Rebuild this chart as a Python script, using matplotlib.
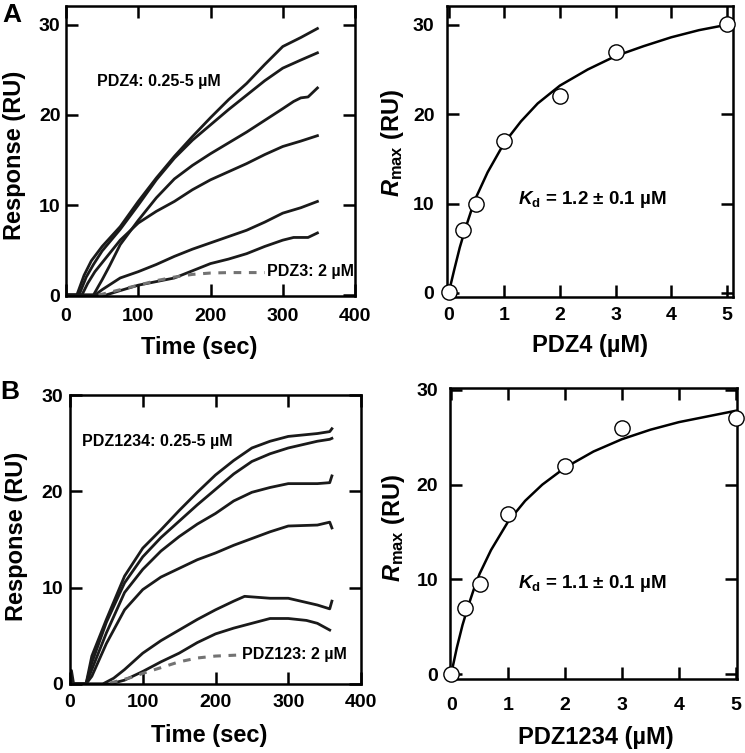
import matplotlib
matplotlib.use('Agg')
import matplotlib.pyplot as plt

plt.rcParams['font.family'] = ['Liberation Sans', 'DejaVu Sans']
plt.rcParams['font.weight'] = 'bold'
plt.rcParams['axes.labelweight'] = 'bold'
plt.rcParams['mathtext.fontset'] = 'custom'
plt.rcParams['mathtext.it'] = 'Liberation Sans:italic:bold'
plt.rcParams['mathtext.rm'] = 'Liberation Sans:bold'
plt.rcParams['mathtext.bf'] = 'Liberation Sans:bold'

# ---- panel A, sensorgrams (time in sec, response in RU) ----
a_t1 = [0, 15, 25, 35, 50, 75, 100, 125, 150, 175, 200, 225, 250, 275, 300, 325, 348]
a_y1 = [0, 0, 2.2, 3.8, 5.4, 7.6, 10.4, 13.0, 15.4, 17.6, 19.7, 21.7, 23.5, 25.6, 27.6, 28.6, 29.6]
a_t2 = [0, 18, 28, 38, 50, 75, 100, 125, 150, 175, 200, 225, 250, 275, 300, 325, 348]
a_y2 = [0, 0, 2.0, 3.4, 4.9, 7.3, 10.0, 12.8, 15.2, 17.2, 18.9, 20.6, 22.2, 23.8, 25.2, 26.1, 26.9]
a_t3 = [0, 38, 45, 50, 60, 75, 100, 125, 150, 175, 200, 225, 250, 275, 300, 315, 325, 335, 348]
a_y3 = [0, 0, 1.0, 1.7, 3.2, 5.6, 8.3, 10.8, 12.9, 14.4, 15.7, 16.9, 18.1, 19.4, 20.7, 21.5, 21.9, 22.0, 23.0]
a_t4 = [0, 22, 30, 40, 50, 75, 100, 125, 150, 175, 200, 225, 250, 275, 300, 325, 348]
a_y4 = [0, 0, 1.3, 2.6, 3.6, 6.1, 8.0, 9.3, 10.4, 11.7, 12.8, 13.7, 14.6, 15.6, 16.5, 17.1, 17.7]
a_t5 = [0, 40, 50, 75, 100, 125, 150, 175, 200, 225, 250, 275, 300, 325, 348]
a_y5 = [0, 0, 0.6, 1.9, 2.6, 3.4, 4.3, 5.1, 5.8, 6.5, 7.2, 8.1, 9.1, 9.7, 10.4]
a_t6 = [0, 55, 75, 100, 125, 150, 175, 200, 225, 250, 275, 300, 315, 335, 348]
a_y6 = [0, 0, 0.5, 1.1, 1.5, 1.9, 2.7, 3.5, 4.0, 4.6, 5.4, 6.1, 6.4, 6.4, 6.9]
a_tctl = [45, 60, 75, 100, 125, 150, 175, 200, 225, 250, 275]
a_yctl = [0, 0.3, 0.6, 1.1, 1.6, 2.0, 2.3, 2.45, 2.5, 2.5, 2.5]

# ---- panel B, sensorgrams ----
b_t1 = [0, 2, 5, 22, 30, 50, 75, 100, 125, 150, 175, 200, 225, 250, 275, 300, 340, 357, 360]
b_y1 = [0, 1.4, 0, 0, 2.9, 6.7, 11.2, 14.1, 16.0, 18.0, 19.9, 21.7, 23.2, 24.5, 25.2, 25.7, 26.0, 26.2, 26.5]
b_t2 = [0, 22, 30, 50, 75, 100, 125, 150, 175, 200, 225, 250, 275, 300, 340, 357, 360]
b_y2 = [0, 0, 2.2, 6.4, 10.5, 13.2, 15.2, 16.9, 18.6, 20.2, 21.8, 23.1, 23.9, 24.5, 25.2, 25.4, 25.5]
b_t3 = [0, 22, 30, 50, 75, 100, 125, 150, 175, 200, 225, 250, 275, 300, 340, 357, 360]
b_y3 = [0, 0, 1.5, 5.3, 9.5, 11.9, 13.8, 15.3, 16.6, 17.7, 19.0, 19.9, 20.4, 20.8, 20.8, 20.9, 21.6]
b_t4 = [0, 22, 30, 50, 75, 100, 125, 150, 175, 200, 225, 250, 275, 300, 340, 357, 360]
b_y4 = [0, 0, 0.8, 4.2, 7.7, 9.8, 11.1, 12.0, 12.9, 13.6, 14.4, 15.1, 15.8, 16.4, 16.5, 16.8, 16.2]
b_t5 = [0, 45, 60, 75, 100, 125, 150, 175, 200, 225, 240, 275, 300, 340, 357, 360]
b_y5 = [0, 0, 0.6, 1.5, 3.2, 4.5, 5.6, 6.7, 7.7, 8.6, 9.1, 8.9, 8.9, 8.2, 7.8, 8.6]
b_t6 = [0, 55, 75, 100, 125, 150, 175, 200, 225, 250, 275, 300, 325, 340, 357]
b_y6 = [0, 0, 0.4, 1.3, 2.3, 3.2, 4.3, 5.2, 5.8, 6.3, 6.8, 6.8, 6.6, 6.3, 5.6]
b_tctl = [55, 70, 85, 100, 125, 150, 175, 200, 230]
b_yctl = [0.1, 0.4, 0.7, 1.1, 1.7, 2.3, 2.7, 2.9, 3.0]

# ---- Rmax vs concentration ----
conc = [0, 0.25, 0.5, 1, 2, 3, 5]
rmax_a = [0.1, 7.1, 10.0, 17.0, 22.0, 26.9, 30.1]
rmax_b = [0, 7.0, 9.5, 16.9, 22.0, 26.0, 27.0]
fit_x = [0, 0.1, 0.2, 0.3, 0.4, 0.5, 0.7, 1.0, 1.3, 1.6, 2.0, 2.5, 3.0, 3.5, 4.0, 4.5, 5.0]
fit_a = [0, 2.6, 5.1, 7.2, 9.1, 10.8, 13.5, 16.8, 19.2, 21.2, 23.2, 25.0, 26.5, 27.6, 28.6, 29.4, 30.0]
fit_b = [0, 2.8, 5.2, 7.2, 9.0, 10.6, 13.1, 16.1, 18.3, 20.0, 21.8, 23.5, 24.8, 25.8, 26.6, 27.2, 27.8]

W, H = 745, 753
fig = plt.figure(figsize=(W / 100, H / 100), dpi=100)


def box(l, t, r, b):
    return [l / W, 1 - b / H, (r - l) / W, (b - t) / H]


def style(ax, xpad, ypad):
    for s in ax.spines.values():
        s.set_linewidth(1.8)
    ax.tick_params(direction='in', length=8.5, width=1.8, top=True, right=True,
                   labelsize=14)
    ax.tick_params(axis='x', pad=xpad)
    ax.tick_params(axis='y', pad=ypad)


line_kw = dict(color='0.1', lw=2.0, solid_joinstyle='round')
ctl_kw = dict(color='0.45', lw=2.2, ls=(0, (2.5, 2.5)))
dot_kw = dict(ls='none', marker='o', ms=11, mfc='white', mec='black', mew=1.0,
              clip_on=False, zorder=5)

# A left
ax1 = fig.add_axes(box(66, 6, 355, 296))
for t, y in [(a_t1, a_y1), (a_t2, a_y2), (a_t3, a_y3), (a_t4, a_y4), (a_t5, a_y5), (a_t6, a_y6)]:
    ax1.plot(t, y, **line_kw)
ax1.plot(a_tctl, a_yctl, **ctl_kw)
ax1.set_xlim(0, 400)
ax1.set_ylim(-0.1, 32.1)
ax1.set_xticks([0, 100, 200, 300, 400])
ax1.set_yticks([0, 10, 20, 30])
ax1.text(42.5, 23.7, 'PDZ4: 0.25-5 µM', fontsize=11.5, va='center')
ax1.text(278, 2.6, 'PDZ3: 2 µM', fontsize=11.5, va='center')
ax1.set_xlabel('Time (sec)', fontsize=17)
ax1.set_ylabel('Response (RU)', fontsize=17)
ax1.xaxis.set_label_coords(0.46, -0.138)
ax1.yaxis.set_label_coords(-0.138, 0.486)
style(ax1, 8.5, 4)

# A right
ax2 = fig.add_axes(box(447, 6, 733, 297))
ax2.plot(fit_x, fit_a, color='black', lw=1.8)
ax2.plot(conc, rmax_a, **dot_kw)
ax2.set_xlim(-0.03, 5.11)
ax2.set_ylim(-0.45, 32.1)
ax2.set_xticks(range(6))
ax2.set_yticks([0, 10, 20, 30])
ax2.text(1.24, 10.4, r'$K_{\mathrm{d}}$ = 1.2 ± 0.1 µM', fontsize=13.5, va='center')
ax2.set_xlabel('PDZ4 (µM)', fontsize=17)
ax2.set_ylabel(r'$R_{\mathrm{max}}$ (RU)', fontsize=17)
ax2.xaxis.set_label_coords(0.5, -0.127)
ax2.yaxis.set_label_coords(-0.143, 0.53)
style(ax2, 7.5, 9)

# B left
ax3 = fig.add_axes(box(70, 395, 361, 684))
for t, y in [(b_t1, b_y1), (b_t2, b_y2), (b_t3, b_y3), (b_t4, b_y4), (b_t5, b_y5), (b_t6, b_y6)]:
    ax3.plot(t, y, **line_kw)
ax3.plot(b_tctl, b_yctl, **ctl_kw)
ax3.set_xlim(0, 400)
ax3.set_ylim(0, 30)
ax3.set_xticks([0, 100, 200, 300, 400])
ax3.set_yticks([0, 10, 20, 30])
ax3.text(16, 25.2, 'PDZ1234: 0.25-5 µM', fontsize=11.5, va='center')
ax3.text(236, 3.06, 'PDZ123: 2 µM', fontsize=11.5, va='center')
ax3.set_xlabel('Time (sec)', fontsize=17)
ax3.set_ylabel('Response (RU)', fontsize=17)
ax3.xaxis.set_label_coords(0.48, -0.138)
ax3.yaxis.set_label_coords(-0.144, 0.51)
style(ax3, 7.5, 5)

# B right
ax4 = fig.add_axes(box(450, 388, 737, 679))
ax4.plot(fit_x, fit_b, color='black', lw=1.8)
ax4.plot(conc, rmax_b, **dot_kw)
ax4.set_xlim(-0.02, 5.02)
ax4.set_ylim(-0.5, 30.2)
ax4.set_xticks(range(6))
ax4.set_yticks([0, 10, 20, 30])
ax4.text(1.18, 9.6, r'$K_{\mathrm{d}}$ = 1.1 ± 0.1 µM', fontsize=13.5, va='center')
ax4.set_xlabel('PDZ1234 (µM)', fontsize=17)
ax4.set_ylabel(r'$R_{\mathrm{max}}$ (RU)', fontsize=17)
ax4.xaxis.set_label_coords(0.508, -0.16)
ax4.yaxis.set_label_coords(-0.15, 0.52)
style(ax4, 13, 8.5)

fig.text(2 / W, 1 - 3 / H, 'A', fontsize=19, fontweight='bold', va='top', ha='left')
fig.text(0 / W, 1 - 380 / H, 'B', fontsize=19, fontweight='bold', va='top', ha='left')

fig.savefig('out.png', dpi=100)
